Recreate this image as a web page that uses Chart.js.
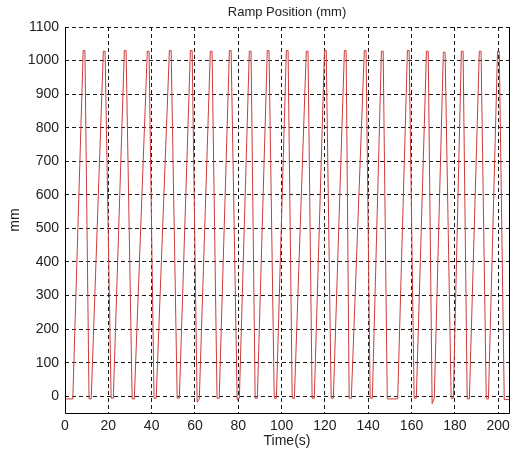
<!DOCTYPE html>
<html>
<head>
<meta charset="utf-8">
<script src="https://cdn.jsdelivr.net/npm/chart.js@4"></script>
<style>
  html, body { margin: 0; padding: 0; background: #fff; }
  #wrap { width: 516px; height: 453px; }
</style>
</head>
<body>
<div id="wrap"><canvas id="chart" width="516" height="453"></canvas></div>
<script>
// Ramp position trace (time in s, position in mm)
// one row per cycle: leave bottom, top start, top end, reach bottom
const timeS = [
  0, 3.6, 8.4, 9.2, 11.1,
  12.1, 17.7, 18.5, 21.3,
  22.3, 27.4, 28.2, 31.0,
  32.0, 38.0, 38.8, 41.1,
  42.1, 48.2, 49.0, 51.8,
  52.8, 57.9, 58.7, 61.0,
  62.0, 67.1, 67.9, 70.2,
  71.2, 75.9, 76.7, 79.5,
  80.5, 85.1, 85.9, 87.8,
  88.8, 93.4, 94.2, 96.6,
  97.6, 102.2, 103.0, 104.9,
  105.9, 111.4, 112.2, 114.1,
  115.1, 119.8, 120.6, 122.9,
  123.9, 129.0, 129.8, 131.2,
  132.2, 138.2, 139.0, 140.9,
  141.9, 146.1, 146.9, 148.8,
  153.6, 158.1, 158.9, 161.2,
  162.2, 166.9, 167.7, 169.5,
  170.5, 174.7, 175.5, 178.3,
  179.3, 183.0, 183.8, 185.7,
  186.7, 191.3, 192.1, 194.5,
  195.5, 199.7, 200.5, 202.8,
  205
];
const positionMm = [
  -8, -8, 1030, 1030, -8,
  -8, 1028, 1028, -6,
  -6, 1030, 1030, -8,
  -8, 1028, 1028, -6,
  -6, 1030, 1030, -6,
  -6, 1030, 1030, -18,
  -8, 1028, 1028, -6,
  -6, 1030, 1030, -12,
  -6, 1028, 1028, -6,
  -6, 1030, 1030, -6,
  -6, 1030, 1030, -6,
  -6, 1028, 1028, -6,
  -6, 1030, 1030, -6,
  -6, 1030, 1030, -6,
  -6, 1030, 1030, -6,
  -6, 1028, 1028, -8,
  -8, 1030, 1030, -6,
  -6, 1028, 1028, -22,
  -6, 1025, 1025, -6,
  -6, 1028, 1028, -8,
  -8, 1028, 1028, -8,
  -8, 1028, 1028, -10,
  -10
];
const xTicks = [0, 20, 40, 60, 80, 100, 120, 140, 160, 180, 200];
const yTicks = [0, 100, 200, 300, 400, 500, 600, 700, 800, 900, 1000, 1100];

const FONT = "'Liberation Sans', Arial, sans-serif";
const GRID = { color: '#1a1a1a', lineWidth: 1, drawTicks: false };
const DASH = { display: false, dash: [4, 3] };
const TICK_FONT = { family: FONT, size: 14 };

// solid box on left, bottom and right of the plot area
const frame = {
  id: 'frame',
  afterDraw(chart) {
    const { ctx, chartArea: a } = chart;
    ctx.save();
    ctx.strokeStyle = '#000';
    ctx.lineWidth = 1;
    ctx.beginPath();
    ctx.moveTo(Math.round(a.left) + 0.5, a.top);
    ctx.lineTo(Math.round(a.left) + 0.5, Math.round(a.bottom) + 0.5);
    ctx.lineTo(Math.round(a.right) + 0.5, Math.round(a.bottom) + 0.5);
    ctx.lineTo(Math.round(a.right) + 0.5, a.top);
    ctx.stroke();
    ctx.restore();
  }
};

new Chart(document.getElementById('chart'), {
  type: 'line',
  data: {
    datasets: [{
      label: 'Ramp Position',
      data: timeS.map((t, i) => ({ x: t, y: positionMm[i] })),
      borderColor: '#cf3a3a',
      borderWidth: 1,
      pointRadius: 0,
      tension: 0,
      fill: false
    }]
  },
  options: {
    responsive: false,
    animation: false,
    devicePixelRatio: 1,
    layout: { padding: { left: 0, right: 7, top: 0, bottom: 0 } },
    plugins: {
      legend: { display: false },
      tooltip: { enabled: false }
    },
    scales: {
      x: {
        type: 'linear',
        min: 0, max: 205,
        afterBuildTicks: axis => { axis.ticks = xTicks.map(v => ({ value: v })); },
        afterFit: s => { s.height = 40; },
        grid: GRID,
        border: DASH,
        ticks: { font: TICK_FONT, color: '#222', padding: 5, maxRotation: 0, callback: v => String(v) },
        title: { display: true, text: 'Time(s)', font: TICK_FONT, color: '#222', padding: { top: 0, bottom: 3 } }
      },
      top: {
        type: 'linear',
        position: 'top',
        min: 0, max: 205,
        afterFit: s => { s.height = 27; },
        grid: { display: false },
        border: { display: false },
        ticks: { display: false },
        title: { display: true, text: 'Ramp Position (mm)', font: { family: FONT, size: 13 }, color: '#222', padding: { top: 5, bottom: 0 } }
      },
      y: {
        min: -50, max: 1100,
        afterBuildTicks: axis => { axis.ticks = yTicks.map(v => ({ value: v })); },
        afterFit: s => { s.width = 65; },
        grid: GRID,
        border: DASH,
        ticks: { font: TICK_FONT, color: '#222', padding: 6, callback: v => String(v) },
        title: { display: true, text: 'mm', font: TICK_FONT, color: '#222', padding: { top: 7, bottom: 0 } }
      }
    }
  },
  plugins: [frame]
});
</script>
</body>
</html>
